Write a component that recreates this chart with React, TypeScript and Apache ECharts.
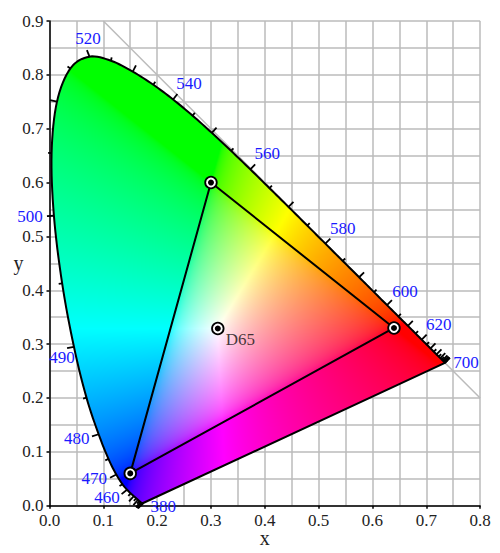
import React, { useEffect, useRef } from "react";
import * as echarts from "echarts";

const wavelengths = [380,385,390,395,400,405,410,415,420,425,430,435,440,445,450,455,460,465,470,475,480,485,490,495,500,505,510,515,520,525,530,535,540,545,550,555,560,565,570,575,580,585,590,595,600,605,610,615,620,625,630,635,640,645,650,655,660,665,670,675,680,685,690,695,700];
const locusX = [0.1741,0.1740,0.1738,0.1736,0.1733,0.1730,0.1726,0.1721,0.1714,0.1703,0.1689,0.1669,0.1644,0.1611,0.1566,0.1510,0.1440,0.1355,0.1241,0.1096,0.0913,0.0687,0.0454,0.0235,0.0082,0.0039,0.0139,0.0389,0.0743,0.1142,0.1547,0.1929,0.2296,0.2658,0.3016,0.3373,0.3731,0.4087,0.4441,0.4788,0.5125,0.5448,0.5752,0.6029,0.6270,0.6482,0.6658,0.6801,0.6915,0.7006,0.7079,0.7140,0.7190,0.7230,0.7260,0.7283,0.7300,0.7311,0.7320,0.7327,0.7334,0.7340,0.7344,0.7346,0.7347];
const locusY = [0.0050,0.0050,0.0049,0.0049,0.0048,0.0048,0.0048,0.0048,0.0051,0.0058,0.0069,0.0086,0.0109,0.0138,0.0177,0.0227,0.0297,0.0399,0.0578,0.0868,0.1327,0.2007,0.2950,0.4127,0.5384,0.6548,0.7502,0.8120,0.8338,0.8262,0.8059,0.7816,0.7543,0.7243,0.6923,0.6589,0.6245,0.5896,0.5547,0.5202,0.4866,0.4544,0.4242,0.3965,0.3725,0.3514,0.3340,0.3197,0.3083,0.2993,0.2920,0.2859,0.2809,0.2770,0.2740,0.2717,0.2700,0.2689,0.2680,0.2673,0.2666,0.2660,0.2656,0.2654,0.2653];
const labelledWavelengths = [380,460,470,480,490,500,520,540,560,580,600,620,700];
const gamutX = [0.64,0.30,0.15];
const gamutY = [0.33,0.60,0.06];
const whitePoint = [0.3127,0.329];
const diagonalX = [0.1,0.8];
const diagonalY = [0.9,0.2];

// Pixel offsets of the blue wavelength labels from their locus point.
const labelOffset: Record<number, number[]> = {
  380:[20,3.7],460:[-20,8],470:[-22,4.4],480:[-22,4],490:[-12,11],500:[-24,1],
  520:[-1.5,-17.7],540:[16,-15.5],560:[17,-16],580:[17.5,-14.7],600:[18,-14],620:[17,-15],700:[21,0],
};

const SERIF = '"Liberation Serif","DejaVu Serif",serif';
const GRID = { left: 49.5, top: 21, width: 430.6, height: 484.7, outerBoundsMode: "none" };
const GRID_COLOR = "#bbbbbb";

function gamma(c: number) {
  return c <= 0.0031308 ? 12.92 * c : 1.055 * Math.pow(c, 1 / 2.4) - 0.055;
}
function xyToRgb(x: number, y: number) {
  if (y <= 0) return [0, 0, 0];
  const X = x / y, Y = 1, Z = (1 - x - y) / y;
  let r = 3.2406 * X - 1.5372 * Y - 0.4986 * Z;
  let g = -0.9689 * X + 1.8758 * Y + 0.0415 * Z;
  let b = 0.0557 * X - 0.204 * Y + 1.057 * Z;
  r = Math.max(r, 0); g = Math.max(g, 0); b = Math.max(b, 0);
  const m = Math.max(r, g, b) || 1;
  return [gamma(r / m) * 255, gamma(g / m) * 255, gamma(b / m) * 255];
}

function spline(pts: number[][]) {
  const out: number[][] = [];
  for (let i = 0; i < pts.length - 1; i++) {
    const p0 = pts[Math.max(i - 1, 0)], p1 = pts[i], p2 = pts[i + 1], p3 = pts[Math.min(i + 2, pts.length - 1)];
    for (let k = 0; k < 8; k++) {
      const t = k / 8, t2 = t * t, t3 = t2 * t;
      out.push([0, 1].map((a) =>
        0.5 * (2 * p1[a] + (p2[a] - p0[a]) * t + (2 * p0[a] - 5 * p1[a] + 4 * p2[a] - p3[a]) * t2 + (3 * p1[a] - p0[a] - 3 * p2[a] + p3[a]) * t3)
      ));
    }
  }
  out.push(pts[pts.length - 1]);
  return out;
}

function buildImage(curve: number[][], x0: number, y0: number, w: number, h: number) {
  const W = Math.ceil(w), H = Math.ceil(h);
  const c = document.createElement("canvas");
  c.width = W; c.height = H;
  const ctx = c.getContext("2d")!;
  const img = ctx.createImageData(W, H);
  for (let j = 0; j < H; j++) {
    for (let i = 0; i < W; i++) {
      const [r, g, b] = xyToRgb(((i + 0.5) / w) * 0.8, (1 - (j + 0.5) / h) * 0.9);
      const o = (j * W + i) * 4;
      img.data[o] = r; img.data[o + 1] = g; img.data[o + 2] = b; img.data[o + 3] = 255;
    }
  }
  ctx.putImageData(img, 0, 0);
  ctx.globalCompositeOperation = "destination-in";
  ctx.beginPath();
  curve.forEach((p, i) => (i ? ctx.lineTo(p[0] - x0, p[1] - y0) : ctx.moveTo(p[0] - x0, p[1] - y0)));
  ctx.closePath();
  ctx.fill();
  return { url: c.toDataURL("image/png"), W, H };
}

export default function App() {
  const ref = useRef<HTMLDivElement>(null);
  useEffect(() => {
    const chart = echarts.init(ref.current!, undefined, { renderer: "svg" });
    let cached: any = null;

    const axisCommon = {
      type: "value" as const,
      interval: 0.1,
      axisLine: { show: true, onZero: false, lineStyle: { color: "#000", width: 1.5 } },
      axisTick: { show: true, length: 3, lineStyle: { color: "#000", width: 1.5 } },
      axisLabel: { color: "#222", fontFamily: SERIF, fontSize: 17, margin: 6, formatter: (v: number) => v.toFixed(1), showMinLabel: true, showMaxLabel: true },
      splitLine: { show: true, lineStyle: { color: GRID_COLOR, width: 1.5 } },
      minorTick: { show: false, splitNumber: 2 },
      minorSplitLine: { show: true, lineStyle: { color: GRID_COLOR, width: 1.5 } },
      nameLocation: "middle" as const,
      nameMoveOverlap: false,
      nameTextStyle: { color: "#222", fontFamily: SERIF, fontSize: 20 },
    };

    const locusData = wavelengths.map((w, i) => [locusX[i], locusY[i], w]);

    chart.setOption({
      animation: false,
      backgroundColor: "#fff",
      grid: GRID,
      xAxis: { ...axisCommon, min: 0, max: 0.8, name: "x", nameGap: 22 },
      yAxis: { ...axisCommon, min: 0, max: 0.9, name: "y", nameGap: 26, nameRotate: 0 },
      series: [
        {
          type: "line", name: "x + y = 1", z: 2, silent: true, symbol: "none",
          data: diagonalX.map((x, i) => [x, diagonalY[i]]),
          lineStyle: { color: GRID_COLOR, width: 1.5 },
        },
        {
          type: "custom", name: "spectral locus", z: 3, silent: true, clip: false,
          coordinateSystem: "cartesian2d",
          data: [[0, 0]],
          renderItem: (_p: any, api: any) => {
            const pts = wavelengths.map((_, i) => api.coord([locusX[i], locusY[i]]) as number[]);
            const curve = spline(pts);
            const tl = api.coord([0, 0.9]), br = api.coord([0.8, 0]);
            if (!cached) cached = buildImage(curve, tl[0], tl[1], br[0] - tl[0], br[1] - tl[1]);
            const ticks = wavelengths.map((w, i) => {
              const a = pts[Math.max(i - 2, 0)], b = pts[Math.min(i + 2, pts.length - 1)];
              let dx = b[0] - a[0], dy = b[1] - a[1];
              if (w <= 425) { dx = -0.7; dy = -0.7; }
              if (w >= 640) { dx = 0.7; dy = 0.7; }
              const L = Math.hypot(dx, dy) || 1;
              const len = w % 10 === 0 ? 7 : 3.5;
              return {
                type: "line",
                shape: { x1: pts[i][0], y1: pts[i][1], x2: pts[i][0] + (dy / L) * len, y2: pts[i][1] - (dx / L) * len },
                style: { stroke: "#000", lineWidth: 1.8 },
              };
            });
            return {
              type: "group",
              children: [
                { type: "image", style: { image: cached.url, x: tl[0], y: tl[1], width: cached.W, height: cached.H } },
                ...ticks,
                {
                  type: "polygon",
                  shape: { points: curve },
                  style: { fill: "none", stroke: "#000", lineWidth: 2, lineJoin: "round" },
                },
              ],
            };
          },
        },
        {
          type: "custom", name: "wavelength labels", z: 4, silent: true, clip: false,
          coordinateSystem: "cartesian2d",
          data: locusData.filter((d) => labelledWavelengths.includes(d[2])),
          renderItem: (_p: any, api: any) => {
            const w = api.value(2);
            const c = api.coord([api.value(0), api.value(1)]);
            const o = labelOffset[w];
            return {
              type: "text",
              style: {
                text: String(w), x: c[0] + o[0], y: c[1] + o[1],
                fill: "#1a1aff", font: `17px ${SERIF}`, align: "center", verticalAlign: "middle",
              },
            };
          },
          encode: { x: 0, y: 1 },
        },
        {
          type: "line", name: "sRGB gamut", z: 5, silent: true, symbol: "none",
          data: [0, 1, 2, 0].map((i) => [gamutX[i], gamutY[i]]),
          lineStyle: { color: "#000", width: 2 },
        },
        {
          type: "custom", name: "primaries and white point", z: 6, silent: true, clip: false,
          coordinateSystem: "cartesian2d",
          data: [...gamutX.map((x, i) => [x, gamutY[i]]), whitePoint],
          renderItem: (_p: any, api: any) => {
            const c = api.coord([api.value(0), api.value(1)]);
            const circle = (r: number, style: any) => ({ type: "circle", shape: { cx: c[0], cy: c[1], r }, style });
            return {
              type: "group",
              children: [
                circle(5.8, { fill: "#fff", stroke: "#000", lineWidth: 1.8 }),
                circle(3, { fill: "#000" }),
              ],
            };
          },
          encode: { x: 0, y: 1 },
        },
        {
          type: "scatter", name: "D65", z: 6, silent: true, symbolSize: 0,
          data: [whitePoint],
          label: { show: true, formatter: "D65", position: "right", offset: [3, 11], color: "#111", fontFamily: SERIF, fontSize: 17 },
        },
      ],
    });
    return () => chart.dispose();
  }, []);
  return <div ref={ref} style={{ position: "fixed", left: 0, top: 0, width: 500, height: 553 }} />;
}
